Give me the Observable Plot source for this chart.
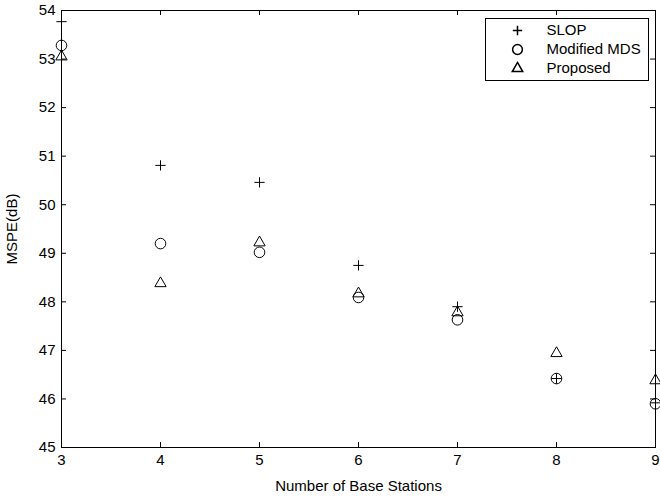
<!DOCTYPE html>
<html>
<head>
<meta charset="utf-8">
<script src="https://cdn.jsdelivr.net/npm/d3@7"></script>
<script src="https://cdn.jsdelivr.net/npm/@observablehq/plot@0.6"></script>
<style>
  html, body { margin: 0; padding: 0; background: #fff; }
  #chart svg { display: block; }
</style>
</head>
<body>
<div id="chart"></div>
<script>
const stations = [3, 4, 5, 6, 7, 8, 9];
const slop = [53.77, 50.81, 50.46, 48.75, 47.90, 46.42, 45.92];
const modifiedMDS = [53.28, 49.20, 49.02, 48.09, 47.63, 46.42, 45.90];
const proposed = [53.05, 48.38, 49.22, 48.17, 47.78, 46.94, 46.38];
const seriesNames = ["SLOP", "Modified MDS", "Proposed"];
const xTicks = [3, 4, 5, 6, 7, 8, 9];
const yTicks = [45, 46, 47, 48, 49, 50, 51, 52, 53, 54];

const W = 660, H = 498;
const mL = 61, mR = 5, mT = 10, mB = 51;
const pw = W - mL - mR, ph = H - mT - mB;
const tick = 5;
const font = "'Liberation Sans', Arial, Helvetica, sans-serif";

const seriesValues = [slop, modifiedMDS, proposed];
const symbols = ["plus", "circle", "triangle2"];
const radii = [3.4, 5.3, 5.4];
const rows = [];
seriesNames.forEach((s, k) => stations.forEach((x, i) => rows.push({series: s, k, x, y: seriesValues[k][i]})));

const marks = [
  Plot.frame({stroke: "black", strokeWidth: 1}),
  // inward ticks on all four sides
  Plot.tickY(yTicks, {y: d => d, insetRight: pw - tick, stroke: "black"}),
  Plot.tickY(yTicks, {y: d => d, insetLeft: pw - tick, stroke: "black"}),
  Plot.tickX(xTicks, {x: d => d, insetTop: ph - tick, stroke: "black"}),
  Plot.tickX(xTicks, {x: d => d, insetBottom: ph - tick, stroke: "black"}),
  Plot.axisX({ticks: xTicks, tickFormat: "d", tickSize: 0, tickPadding: 7, label: "Number of Base Stations", labelAnchor: "center", labelOffset: 43, labelArrow: "none", fontSize: 15}),
  Plot.axisY({ticks: yTicks, tickFormat: "d", tickSize: 0, tickPadding: 6, label: "MSPE(dB)", labelAnchor: "center", labelOffset: 55, labelArrow: "none", fontSize: 15}),
];
seriesNames.forEach((s, k) => {
  marks.push(Plot.dot(rows.filter(d => d.k === k), {x: "x", y: "y", symbol: () => symbols[k], r: radii[k], stroke: "black", fill: "none", strokeWidth: 1}));
});
// legend box inside the plot frame
marks.push(Plot.frame({fill: "white", stroke: "black", strokeWidth: 1, insetLeft: 424, insetRight: 7, insetTop: 8, insetBottom: ph - 70}));
seriesNames.forEach((s, k) => {
  marks.push(Plot.dot([s], {frameAnchor: "top-right", dx: -138, dy: 20 + k * 19, symbol: () => symbols[k], r: radii[k] * 0.92, stroke: "black", fill: "none"}));
  marks.push(Plot.text([s], {frameAnchor: "top-right", dx: -109, dy: 20 + k * 19, text: d => d, textAnchor: "start", lineAnchor: "middle", fontSize: 15, fill: "black"}));
});

const chart = Plot.plot({
  width: W, height: H,
  marginLeft: mL, marginRight: mR, marginTop: mT, marginBottom: mB,
  style: {fontFamily: font, fontSize: "15px", color: "black", background: "white"},
  x: {domain: [3, 9]},
  y: {domain: [45, 54]},
  symbol: {type: "identity"},
  marks
});
document.getElementById("chart").appendChild(chart);
</script>
</body>
</html>
